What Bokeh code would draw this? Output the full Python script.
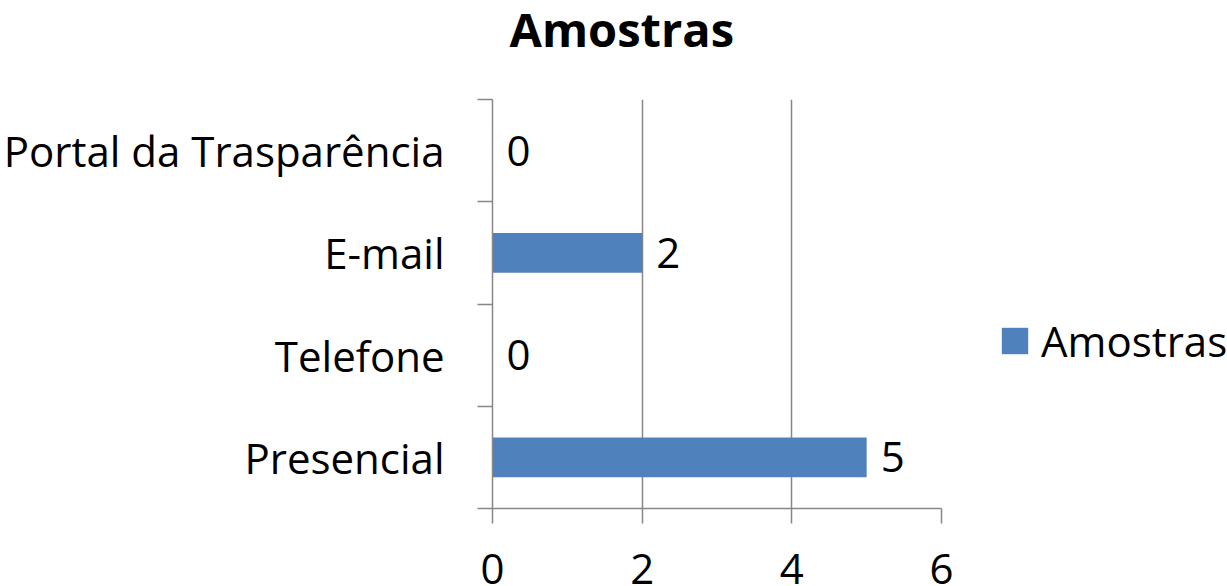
from bokeh.plotting import figure
from bokeh.layouts import row
from bokeh.models import (Range1d, FixedTicker, ColumnDataSource, LabelSet,
                          Legend, LegendItem, Title)
from bokeh.core.properties import value
from bokeh.embed import file_html
from bokeh.resources import INLINE

categories = ["Presencial", "Telefone", "E-mail", "Portal da Trasparência"]
values = [5, 0, 2, 0]
x_ticks = [0, 2, 4, 6]
title_text = "Amostras"
series_name = "Amostras"

FONT = "Open Sans"
GRAY = "#878787"
BLUE = "#4F81BD"

centers = [i + 0.5 for i in range(len(categories))]

p = figure(width=961, height=586, output_backend="svg", toolbar_location=None,
           x_range=Range1d(0, 6), y_range=Range1d(0, len(categories)),
           min_border_left=491, min_border_right=20, min_border_top=99,
           min_border_bottom=78, title=None)
p.outline_line_color = None
p.background_fill_color = "white"
p.border_fill_color = "white"

# spacer (nearest to the frame) then the real title above it
p.add_layout(Title(text=" ", text_font_size="16px", standoff=24), "above")
p.add_layout(Title(text=title_text, text_font=FONT, text_font_size="47px",
                   text_font_style="bold", text_color="black",
                   align="left", offset=17, standoff=-12,
                   vertical_align="top"), "above")

src = ColumnDataSource(dict(y=centers, v=values, cat=categories,
                            lab=[str(v) for v in values]))
r = p.hbar(y="y", right="v", left=0, height=0.39, source=src,
           fill_color=BLUE, line_color=None)

# x axis
xa = p.xaxis[0]
xa.ticker = FixedTicker(ticks=x_ticks)
xa.axis_line_color = GRAY
xa.axis_line_width = 1.5
xa.major_tick_line_color = GRAY
xa.major_tick_line_width = 1.5
xa.major_tick_out = 15
xa.major_tick_in = 0
xa.minor_tick_line_color = None
xa.major_label_text_font = FONT
xa.major_label_text_font_size = "42px"
xa.major_label_text_color = "black"
xa.major_label_standoff = 30

# y axis
ya = p.yaxis[0]
ya.ticker = FixedTicker(ticks=centers, minor_ticks=list(range(len(categories) + 1)))
ya.major_label_overrides = {c: cat for c, cat in zip(centers, categories)}
ya.axis_line_color = GRAY
ya.axis_line_width = 1.5
ya.major_tick_line_color = None
ya.major_tick_out = 0
ya.major_tick_in = 0
ya.minor_tick_line_color = GRAY
ya.minor_tick_line_width = 1.5
ya.minor_tick_out = 15
ya.minor_tick_in = 0
ya.major_label_text_font = FONT
ya.major_label_text_font_size = "42px"
ya.major_label_text_color = "black"
ya.major_label_standoff = 33

p.ygrid.grid_line_color = None
p.xgrid.ticker = FixedTicker(ticks=x_ticks)
p.xgrid.grid_line_color = GRAY
p.xgrid.grid_line_width = 1.5

# value labels
vl = LabelSet(x="v", y="y", text="lab", source=src, x_offset=14,
              text_font=value(FONT), text_font_size=value("42px"),
              text_color="black", text_baseline="middle", text_align="left")
p.add_layout(vl)

# legend panel (separate figure to the right); its swatch renderer lies
# entirely outside the visible ranges so only the legend entry shows
q = figure(width=266, height=586, output_backend="svg", toolbar_location=None,
           x_range=Range1d(0, 1), y_range=Range1d(0, 1),
           x_axis_location=None, y_axis_location=None, min_border=0)
q.outline_line_color = None
q.grid.grid_line_color = None
q.background_fill_color = "white"
q.border_fill_color = "white"
lr = q.hbar(y=[10], right=[11], left=10, height=0.39, fill_color=BLUE,
            line_color=None)

legend = Legend(items=[LegendItem(label=series_name, renderers=[lr])],
                location=(37, 139), padding=0, margin=0, spacing=0,
                border_line_color=None, background_fill_alpha=0,
                glyph_width=33, glyph_height=33, label_standoff=10,
                label_text_font=FONT, label_text_font_size="42px",
                label_text_color="black")
q.add_layout(legend, "center")

layout = row(p, q, spacing=0)

open("out.html", "w").write(file_html(layout, INLINE))
